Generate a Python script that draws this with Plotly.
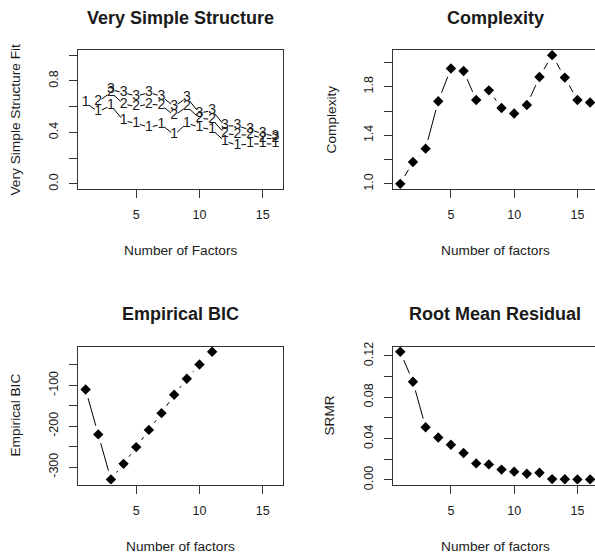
import math
import plotly.graph_objects as go

# ---------------- data ----------------
factors = list(range(1, 17))
vss_cfit1 = [0.63, 0.56, 0.61, 0.49, 0.47, 0.44, 0.46, 0.38, 0.47, 0.44, 0.42, 0.33, 0.30, 0.31, 0.31, 0.31]
vss_cfit2 = [None, 0.64, 0.71, 0.62, 0.60, 0.62, 0.61, 0.53, 0.60, 0.51, 0.50, 0.39, 0.38, 0.38, 0.355, 0.35]
vss_cfit3 = [None, None, 0.73, 0.71, 0.68, 0.71, 0.68, 0.60, 0.67, 0.55, 0.57, 0.45, 0.45, 0.42, 0.39, 0.37]
complexity = [1.00, 1.18, 1.29, 1.68, 1.95, 1.93, 1.69, 1.77, 1.625, 1.58, 1.65, 1.88, 2.06, 1.875, 1.69, 1.67]
ebic = [-110, -220, -330, -292, -251, -209, -168, -123, -84, -49, -18, None, None, None, None, None]
srmr = [0.124, 0.095, 0.051, 0.041, 0.034, 0.026, 0.016, 0.015, 0.010, 0.008, 0.006, 0.007, 0.0008, 0.0006, 0.0005, 0.0005]

vss_ticks = [0.0, 0.2, 0.4, 0.6, 0.8, 1.0]
vss_ticklabels = ["0.0", "", "0.4", "", "0.8", ""]
cx_ticks = [1.0, 1.2, 1.4, 1.6, 1.8, 2.0]
cx_ticklabels = ["1.0", "", "1.4", "", "1.8", ""]
bic_ticks = [-300, -250, -200, -150, -100, -50]
bic_ticklabels = ["-300", "", "-200", "", "-100", ""]
rmr_ticks = [0.00, 0.02, 0.04, 0.06, 0.08, 0.10, 0.12]
rmr_ticklabels = ["0.00", "", "0.04", "", "0.08", "", "0.12"]
x_ticks = [5, 10, 15]

# ---------------- geometry (pixels) ----------------
W, H = 595, 556
FONT = "Liberation Sans, Arial, sans-serif"
TXT = "#1a1a1a"
BOX = "#333333"

panels = {
    1: dict(x0=78, x1=283, y0=50, y1=189),
    2: dict(x0=392.7, x1=597.7, y0=50, y1=189),
    3: dict(x0=78, x1=283, y0=346.7, y1=484.5),
    4: dict(x0=392.7, x1=597.7, y0=346.7, y1=484.5),
}


def rrange(vals):
    v = [a for a in vals if a is not None]
    lo, hi = min(v), max(v)
    d = (hi - lo) * 0.04
    return [lo - d, hi + d]


xr_full = rrange(factors)
ppu_x = (panels[1]["x1"] - panels[1]["x0"]) / (xr_full[1] - xr_full[0])

yranges = {1: [-0.04, 1.04], 2: rrange(complexity), 3: rrange(ebic), 4: rrange(srmr)}


def gapped(xs, ys, p, yr, gap):
    """line segments between consecutive points with gaps around points (R type='b')."""
    ppy = (p["y1"] - p["y0"]) / (yr[1] - yr[0])
    ox, oy = [], []
    for i in range(len(xs) - 1):
        if ys[i] is None or ys[i + 1] is None:
            continue
        dxp = (xs[i + 1] - xs[i]) * ppu_x
        dyp = (ys[i + 1] - ys[i]) * ppy
        d = math.hypot(dxp, dyp)
        if d <= 2 * gap:
            continue
        f0, f1 = gap / d, 1 - gap / d
        ox += [xs[i] + (xs[i + 1] - xs[i]) * f0, xs[i] + (xs[i + 1] - xs[i]) * f1, None]
        oy += [ys[i] + (ys[i + 1] - ys[i]) * f0, ys[i] + (ys[i + 1] - ys[i]) * f1, None]
    return ox, oy


fig = go.Figure()

# VSS panel
for series, lab in [(vss_cfit1, "1"), (vss_cfit2, "2"), (vss_cfit3, "3")]:
    lx, ly = gapped(factors, series, panels[1], yranges[1], 4)
    fig.add_trace(go.Scatter(x=lx, y=ly, mode="lines", line=dict(color="black", width=1),
                             xaxis="x", yaxis="y", showlegend=False, hoverinfo="skip"))
    px = [f for f, v in zip(factors, series) if v is not None]
    py = [v for v in series if v is not None]
    fig.add_trace(go.Scatter(x=px, y=py, mode="text", text=[lab] * len(px),
                             textposition="middle center",
                             textfont=dict(family=FONT, size=14, color=TXT),
                             xaxis="x", yaxis="y", showlegend=False))

# dot panels
for k, series in [(2, complexity), (3, ebic), (4, srmr)]:
    ax = str(k)
    lx, ly = gapped(factors, series, panels[k], yranges[k], 9)
    fig.add_trace(go.Scatter(x=lx, y=ly, mode="lines", line=dict(color="black", width=1),
                             xaxis="x" + ax, yaxis="y" + ax, showlegend=False, hoverinfo="skip"))
    px = [f for f, v in zip(factors, series) if v is not None]
    py = [v for v in series if v is not None]
    fig.add_trace(go.Scatter(x=px, y=py, mode="markers",
                             marker=dict(symbol="diamond", size=8, color="black"),
                             xaxis="x" + ax, yaxis="y" + ax, showlegend=False))

ytick_info = {1: (vss_ticks, vss_ticklabels), 2: (cx_ticks, cx_ticklabels),
              3: (bic_ticks, bic_ticklabels), 4: (rmr_ticks, rmr_ticklabels)}

layout = dict(width=W, height=H, margin=dict(l=0, r=0, t=0, b=0, autoexpand=False),
              paper_bgcolor="white", plot_bgcolor="white", showlegend=False)

for k, p in panels.items():
    ax = "" if k == 1 else str(k)
    x1c = min(p["x1"], W)
    xr_end = xr_full[0] + (x1c - p["x0"]) / ppu_x
    clipped = p["x1"] > W
    tv, tt = ytick_info[k]
    layout["xaxis" + ax] = dict(
        domain=[p["x0"] / W, x1c / W], anchor="y" + ax, automargin=False,
        range=[xr_full[0], xr_end], tickvals=x_ticks, ticktext=[str(t) for t in x_ticks],
        ticks="outside", ticklen=8, tickcolor=BOX, tickwidth=1,
        showline=True, linecolor=BOX, linewidth=1, mirror=True,
        showgrid=False, zeroline=False, ticklabelstandoff=6,
        tickfont=dict(family=FONT, size=12.5, color=TXT))
    layout["yaxis" + ax] = dict(
        domain=[1 - p["y1"] / H, 1 - p["y0"] / H], anchor="x" + ax, automargin=False,
        range=yranges[k], tickvals=tv, ticktext=tt, tickangle=-90,
        ticks="outside", ticklen=8, tickcolor=BOX, tickwidth=1,
        showline=True, linecolor=BOX, linewidth=1, mirror=not clipped,
        showgrid=False, zeroline=False, ticklabelstandoff=6,
        tickfont=dict(family=FONT, size=12.5, color=TXT))

fig.update_layout(**layout)

titles = [("Very Simple Structure", 1), ("Complexity", 2), ("Empirical BIC", 3), ("Root Mean Residual", 4)]
xlabels = {1: "Number of Factors", 2: "Number of factors", 3: "Number of factors", 4: "Number of factors"}
ylabels = {1: "Very Simple Structure Fit", 2: "Complexity", 3: "Empirical BIC", 4: "SRMR"}
ylab_x = {1: 15, 2: 331, 3: 16, 4: 330}
xlab_y = {1: 250, 2: 250, 3: 546.5, 4: 546.5}
title_y = {1: 17.5, 2: 17.5, 3: 314, 4: 314}

ann = []
for t, k in titles:
    p = panels[k]
    cx = (p["x0"] + p["x1"]) / 2
    ann.append(dict(text="<b>" + t + "</b>", x=cx / W, y=1 - title_y[k] / H, xref="paper", yref="paper",
                    showarrow=False, xanchor="center", yanchor="middle",
                    font=dict(family=FONT, size=18, color=TXT)))
    ann.append(dict(text=xlabels[k], x=cx / W, y=1 - xlab_y[k] / H, xref="paper", yref="paper",
                    showarrow=False, xanchor="center", yanchor="middle",
                    font=dict(family=FONT, size=13.7, color=TXT)))
    cy = (p["y0"] + p["y1"]) / 2
    ann.append(dict(text=ylabels[k], x=ylab_x[k] / W, y=1 - cy / H, xref="paper", yref="paper",
                    showarrow=False, xanchor="center", yanchor="middle", textangle=-90,
                    font=dict(family=FONT, size=13.7, color=TXT)))
fig.update_layout(annotations=ann)

fig.write_html("out.html", config={"displayModeBar": False},
               post_script="document.body.style.margin='0';document.body.style.overflow='hidden';")
